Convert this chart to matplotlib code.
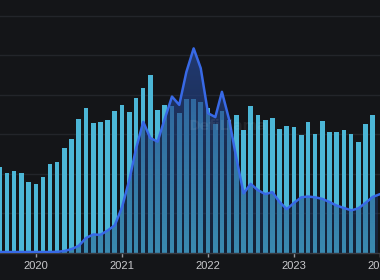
import matplotlib
matplotlib.use("Agg")
import matplotlib.pyplot as plt
import matplotlib.dates as mdates
import numpy as np
import pandas as pd
from matplotlib.colors import LinearSegmentedColormap

# ---- data ----
bar_months = pd.date_range("2019-08-01", "2023-12-01", freq="MS")
bar_values = [
    21.8, 20.3, 20.8, 20.2, 18.1,
    17.5, 19.2, 22.6, 23.1, 26.5, 28.8, 33.8, 36.6, 32.8, 33.2, 33.7, 35.9,
    37.5, 35.6, 39.2, 41.7, 45.1, 36.2, 37.5, 37.2, 35.5, 38.9, 38.9, 38.3,
    36.8, 32.7, 35.9, 33.7, 34.9, 31.1, 37.2, 34.9, 33.7, 34.1, 31.3, 32.2,
    31.8, 29.8, 33.2, 30.1, 33.5, 30.6, 30.6, 31.1, 30.2, 28.2, 32.7, 34.9,
]
line_months = pd.date_range("2019-08-01", "2024-01-01", freq="MS")
line_values = [
    0.25, 0.25, 0.25, 0.25, 0.25,
    0.25, 0.25, 0.25, 0.3, 0.5, 1.0, 1.8, 3.8, 4.7, 4.6, 5.7, 7.0,
    11.6, 18.5, 26.3, 33.2, 29.1, 28.2, 33.9, 39.6, 37.5, 45.8, 51.8, 46.8,
    35.4, 34.4, 40.8, 33.7, 24.1, 15.1, 17.5, 15.9, 14.9, 15.4, 12.9, 11.1,
    12.7, 14.1, 14.3, 14.1, 13.7, 12.9, 12.0, 11.4, 10.8, 11.3, 12.7, 14.2,
    14.9,
]
year_ticks = pd.to_datetime(["2020-01-01", "2021-01-01", "2022-01-01", "2023-01-01", "2024-01-01"])
year_labels = ["2020", "2021", "2022", "2023", "2024"]

BG = "#141518"
fig = plt.figure(figsize=(3.8, 2.8), dpi=100, facecolor=BG)
ax = fig.add_axes([0, 27 / 280, 1, 253 / 280])
ax.set_facecolor(BG)

ax.set_ylim(0, 64.05)
ax.set_xlim(pd.Timestamp("2019-08-02"), pd.Timestamp("2023-12-23"))

for g in [10, 20, 30, 40, 50, 60]:
    ax.axhline(g, color="#23252a", lw=1.0, zorder=0)

ax.bar(bar_months, bar_values, width=19.0, color="#4cb6d6", zorder=2, align="center")

# area with gradient fill
xnum = mdates.date2num(line_months)
poly = ax.fill_between(xnum, line_values, 0, color="none", zorder=3)
cmap = LinearSegmentedColormap.from_list(
    "g", [(0.0, (0.10, 0.22, 0.42, 0.35)), (1.0, (0.15, 0.27, 0.55, 0.78))]
)
grad = np.linspace(0, 1, 256).reshape(-1, 1)
x0, x1 = ax.get_xlim()
im = ax.imshow(grad, cmap=cmap, aspect="auto", origin="lower",
               extent=[x0, x1, 0, max(line_values)], zorder=3, interpolation="bilinear")
im.set_clip_path(poly.get_paths()[0], transform=ax.transData)
ax.set_xlim(x0, x1)
ax.set_ylim(0, 64.05)

ax.plot(xnum, line_values, color="#3869e6", lw=1.8, zorder=4, solid_joinstyle="round")

ax.text(0.6, 0.5, "DefiLlama", transform=ax.transAxes, ha="center", va="center",
        fontsize=10, color="white", alpha=0.07, zorder=5, fontweight="bold")

for s in ["top", "left", "right"]:
    ax.spines[s].set_visible(False)
ax.spines["bottom"].set_color("#3a3c42")
ax.spines["bottom"].set_linewidth(1.0)
ax.set_yticks([])
ax.set_xticks(year_ticks)
ax.set_xticklabels(year_labels, fontsize=8, color="#c9c9cc", family="Liberation Sans")
ax.tick_params(axis="x", colors="#9a9a9f", length=3, width=1, pad=3, labelcolor="#c9c9cc")

fig.savefig("out.png", dpi=100, facecolor=BG)
